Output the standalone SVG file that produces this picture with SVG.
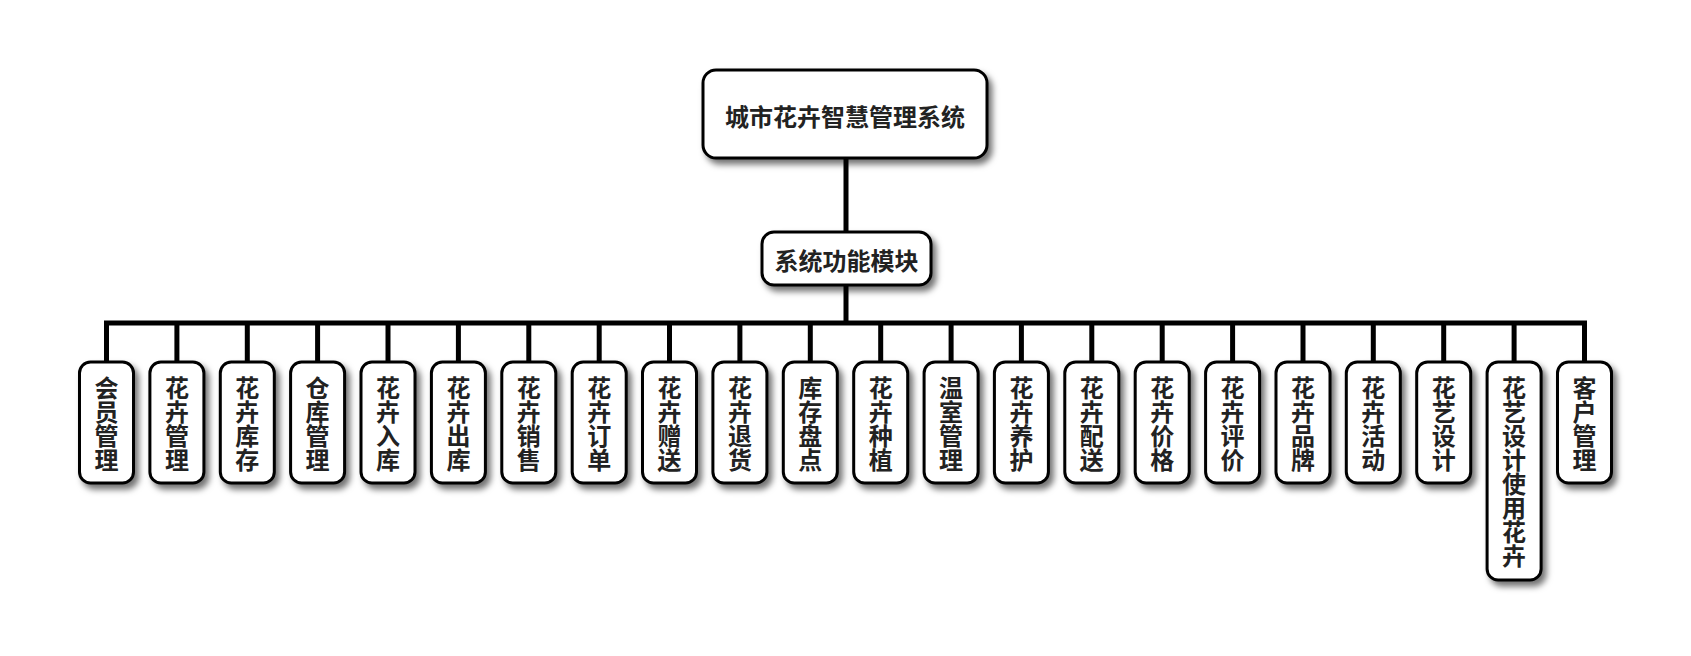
<svg xmlns="http://www.w3.org/2000/svg" width="1691" height="656" viewBox="0 0 1691 656">
<defs>
<filter id="sh" x="-20%" y="-20%" width="160%" height="160%">
<feDropShadow dx="4" dy="5" stdDeviation="3" flood-color="#000" flood-opacity="0.55"/>
</filter>
<style>
.box{fill:#fff;stroke:#000;stroke-width:3;filter:url(#sh)}
.t{font-family:"Noto Sans CJK SC","Noto Sans",sans-serif;font-weight:bold;font-size:24px;fill:#222;text-anchor:middle;dominant-baseline:central}
.c{fill:none;stroke:#000;stroke-width:5}
</style>
</defs>
<rect width="1691" height="656" fill="#fff"/>
<g id="connectors">
<path class="c" d="M846,158 V232 M846,285 V323"/>
<path class="c" d="M106.5,362 V323 H1584.5 V362"/>
<path class="c" d="M176.9,323 V362 M247.3,323 V362 M317.6,323 V362 M388,323 V362 M458.4,323 V362 M528.8,323 V362 M599.2,323 V362 M669.5,323 V362 M739.9,323 V362 M810.3,323 V362 M880.7,323 V362 M951.1,323 V362 M1021.4,323 V362 M1091.8,323 V362 M1162.2,323 V362 M1232.6,323 V362 M1303,323 V362 M1373.3,323 V362 M1443.7,323 V362 M1514.1,323 V362"/>
</g>
<g id="root"><rect class="box" x="703" y="70" width="284" height="88" rx="13"/><text class="t" x="845" y="115">城市花卉智慧管理系统</text></g>
<g id="module"><rect class="box" x="762" y="232" width="169" height="53" rx="12"/><text class="t" x="846.5" y="259">系统功能模块</text></g>
<g id="n1"><rect class="box" x="79.5" y="362" width="54" height="121" rx="11"/><text class="t"><tspan x="106.5" y="386">会</tspan><tspan x="106.5" y="410">员</tspan><tspan x="106.5" y="434">管</tspan><tspan x="106.5" y="458">理</tspan></text></g>
<g id="n2"><rect class="box" x="149.9" y="362" width="54" height="121" rx="11"/><text class="t"><tspan x="176.9" y="386">花</tspan><tspan x="176.9" y="410">卉</tspan><tspan x="176.9" y="434">管</tspan><tspan x="176.9" y="458">理</tspan></text></g>
<g id="n3"><rect class="box" x="220.3" y="362" width="54" height="121" rx="11"/><text class="t"><tspan x="247.3" y="386">花</tspan><tspan x="247.3" y="410">卉</tspan><tspan x="247.3" y="434">库</tspan><tspan x="247.3" y="458">存</tspan></text></g>
<g id="n4"><rect class="box" x="290.6" y="362" width="54" height="121" rx="11"/><text class="t"><tspan x="317.6" y="386">仓</tspan><tspan x="317.6" y="410">库</tspan><tspan x="317.6" y="434">管</tspan><tspan x="317.6" y="458">理</tspan></text></g>
<g id="n5"><rect class="box" x="361" y="362" width="54" height="121" rx="11"/><text class="t"><tspan x="388" y="386">花</tspan><tspan x="388" y="410">卉</tspan><tspan x="388" y="434">入</tspan><tspan x="388" y="458">库</tspan></text></g>
<g id="n6"><rect class="box" x="431.4" y="362" width="54" height="121" rx="11"/><text class="t"><tspan x="458.4" y="386">花</tspan><tspan x="458.4" y="410">卉</tspan><tspan x="458.4" y="434">出</tspan><tspan x="458.4" y="458">库</tspan></text></g>
<g id="n7"><rect class="box" x="501.8" y="362" width="54" height="121" rx="11"/><text class="t"><tspan x="528.8" y="386">花</tspan><tspan x="528.8" y="410">卉</tspan><tspan x="528.8" y="434">销</tspan><tspan x="528.8" y="458">售</tspan></text></g>
<g id="n8"><rect class="box" x="572.2" y="362" width="54" height="121" rx="11"/><text class="t"><tspan x="599.2" y="386">花</tspan><tspan x="599.2" y="410">卉</tspan><tspan x="599.2" y="434">订</tspan><tspan x="599.2" y="458">单</tspan></text></g>
<g id="n9"><rect class="box" x="642.5" y="362" width="54" height="121" rx="11"/><text class="t"><tspan x="669.5" y="386">花</tspan><tspan x="669.5" y="410">卉</tspan><tspan x="669.5" y="434">赠</tspan><tspan x="669.5" y="458">送</tspan></text></g>
<g id="n10"><rect class="box" x="712.9" y="362" width="54" height="121" rx="11"/><text class="t"><tspan x="739.9" y="386">花</tspan><tspan x="739.9" y="410">卉</tspan><tspan x="739.9" y="434">退</tspan><tspan x="739.9" y="458">货</tspan></text></g>
<g id="n11"><rect class="box" x="783.3" y="362" width="54" height="121" rx="11"/><text class="t"><tspan x="810.3" y="386">库</tspan><tspan x="810.3" y="410">存</tspan><tspan x="810.3" y="434">盘</tspan><tspan x="810.3" y="458">点</tspan></text></g>
<g id="n12"><rect class="box" x="853.7" y="362" width="54" height="121" rx="11"/><text class="t"><tspan x="880.7" y="386">花</tspan><tspan x="880.7" y="410">卉</tspan><tspan x="880.7" y="434">种</tspan><tspan x="880.7" y="458">植</tspan></text></g>
<g id="n13"><rect class="box" x="924.1" y="362" width="54" height="121" rx="11"/><text class="t"><tspan x="951.1" y="386">温</tspan><tspan x="951.1" y="410">室</tspan><tspan x="951.1" y="434">管</tspan><tspan x="951.1" y="458">理</tspan></text></g>
<g id="n14"><rect class="box" x="994.4" y="362" width="54" height="121" rx="11"/><text class="t"><tspan x="1021.4" y="386">花</tspan><tspan x="1021.4" y="410">卉</tspan><tspan x="1021.4" y="434">养</tspan><tspan x="1021.4" y="458">护</tspan></text></g>
<g id="n15"><rect class="box" x="1064.8" y="362" width="54" height="121" rx="11"/><text class="t"><tspan x="1091.8" y="386">花</tspan><tspan x="1091.8" y="410">卉</tspan><tspan x="1091.8" y="434">配</tspan><tspan x="1091.8" y="458">送</tspan></text></g>
<g id="n16"><rect class="box" x="1135.2" y="362" width="54" height="121" rx="11"/><text class="t"><tspan x="1162.2" y="386">花</tspan><tspan x="1162.2" y="410">卉</tspan><tspan x="1162.2" y="434">价</tspan><tspan x="1162.2" y="458">格</tspan></text></g>
<g id="n17"><rect class="box" x="1205.6" y="362" width="54" height="121" rx="11"/><text class="t"><tspan x="1232.6" y="386">花</tspan><tspan x="1232.6" y="410">卉</tspan><tspan x="1232.6" y="434">评</tspan><tspan x="1232.6" y="458">价</tspan></text></g>
<g id="n18"><rect class="box" x="1276" y="362" width="54" height="121" rx="11"/><text class="t"><tspan x="1303" y="386">花</tspan><tspan x="1303" y="410">卉</tspan><tspan x="1303" y="434">品</tspan><tspan x="1303" y="458">牌</tspan></text></g>
<g id="n19"><rect class="box" x="1346.3" y="362" width="54" height="121" rx="11"/><text class="t"><tspan x="1373.3" y="386">花</tspan><tspan x="1373.3" y="410">卉</tspan><tspan x="1373.3" y="434">活</tspan><tspan x="1373.3" y="458">动</tspan></text></g>
<g id="n20"><rect class="box" x="1416.7" y="362" width="54" height="121" rx="11"/><text class="t"><tspan x="1443.7" y="386">花</tspan><tspan x="1443.7" y="410">艺</tspan><tspan x="1443.7" y="434">设</tspan><tspan x="1443.7" y="458">计</tspan></text></g>
<g id="n21"><rect class="box" x="1487.1" y="362" width="54" height="218" rx="11"/><text class="t"><tspan x="1514.1" y="386">花</tspan><tspan x="1514.1" y="410">艺</tspan><tspan x="1514.1" y="434">设</tspan><tspan x="1514.1" y="458">计</tspan><tspan x="1514.1" y="482">使</tspan><tspan x="1514.1" y="506">用</tspan><tspan x="1514.1" y="530">花</tspan><tspan x="1514.1" y="554">卉</tspan></text></g>
<g id="n22"><rect class="box" x="1557.5" y="362" width="54" height="121" rx="11"/><text class="t"><tspan x="1584.5" y="386">客</tspan><tspan x="1584.5" y="410">户</tspan><tspan x="1584.5" y="434">管</tspan><tspan x="1584.5" y="458">理</tspan></text></g>
</svg>
